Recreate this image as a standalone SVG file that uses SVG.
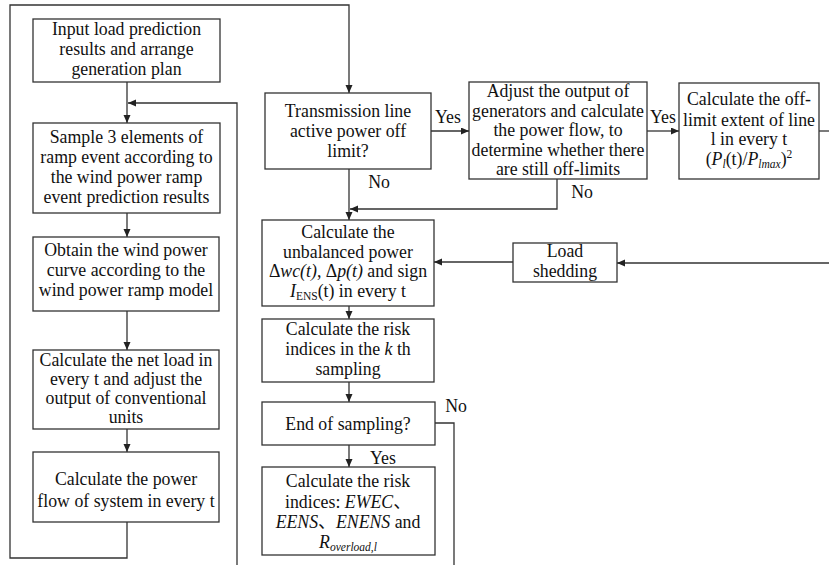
<svg xmlns="http://www.w3.org/2000/svg" width="829" height="565" viewBox="0 0 829 565">
<style>
.box{fill:#fff;stroke:#333;stroke-width:1.3}
.ln{fill:none;stroke:#333;stroke-width:1.3}
text{font-family:"Liberation Serif","Noto Sans CJK SC",serif;font-size:17.8px;fill:#111;text-anchor:middle}
.i{font-style:italic}
.s{font-size:11.5px}
</style>
<defs>
<marker id="ar" markerUnits="userSpaceOnUse" markerWidth="9" markerHeight="8" refX="8" refY="3.5" orient="auto">
<path d="M0,0 L8,3.5 L0,7 z" fill="#222"/>
</marker>
</defs>
<rect width="829" height="565" fill="#fff"/>
<g id="connectors">
<path class="ln" d="M127,82 V123" marker-end="url(#ar)"/>
<path class="ln" d="M237,565 V103 H128" marker-end="url(#ar)"/>
<path class="ln" d="M127,213 V237" marker-end="url(#ar)"/>
<path class="ln" d="M127,311 V350" marker-end="url(#ar)"/>
<path class="ln" d="M127,429 V452" marker-end="url(#ar)"/>
<path class="ln" d="M127,522 V558 H10 V5 H349 V93" marker-end="url(#ar)"/>
<path class="ln" d="M431,131 H469" marker-end="url(#ar)"/>
<path class="ln" d="M647,131 H679" marker-end="url(#ar)"/>
<path class="ln" d="M819,131 H829"/>
<path class="ln" d="M829,263 H617" marker-end="url(#ar)"/>
<path class="ln" d="M513,262 H434" marker-end="url(#ar)"/>
<path class="ln" d="M349,169 V220" marker-end="url(#ar)"/>
<path class="ln" d="M557,179 V209 H350" marker-end="url(#ar)"/>
<path class="ln" d="M349,306 V319" marker-end="url(#ar)"/>
<path class="ln" d="M349,382 V402" marker-end="url(#ar)"/>
<path class="ln" d="M349,445 V467" marker-end="url(#ar)"/>
<path class="ln" d="M435,423 H454 V565"/>
<text x="448" y="123">Yes</text>
<text x="379" y="188">No</text>
<text x="663" y="123">Yes</text>
<text x="582" y="198">No</text>
<text x="456" y="412">No</text>
<text x="383" y="464">Yes</text>
</g>
<g id="n1">
<rect class="box" x="33" y="19" width="187" height="63"/>
<text x="126.5" y="35">Input load prediction</text>
<text x="126.5" y="55">results and arrange</text>
<text x="126.5" y="75">generation plan</text>
</g>
<g id="n2">
<rect class="box" x="33" y="123" width="187" height="90"/>
<text x="126.5" y="143">Sample 3 elements of</text>
<text x="126.5" y="163">ramp event according to</text>
<text x="126.5" y="183">the wind power ramp</text>
<text x="126.5" y="203">event prediction results</text>
</g>
<g id="n3">
<rect class="box" x="33" y="237" width="186" height="74"/>
<text x="126" y="256">Obtain the wind power</text>
<text x="126" y="276">curve according to the</text>
<text x="126" y="296">wind power ramp model</text>
</g>
<g id="n4">
<rect class="box" x="33" y="350" width="186" height="79"/>
<text x="126" y="366">Calculate the net load in</text>
<text x="126" y="385">every t and adjust the</text>
<text x="126" y="404">output of conventional</text>
<text x="126" y="423">units</text>
</g>
<g id="n5">
<rect class="box" x="33" y="452" width="186" height="70"/>
<text x="126" y="485">Calculate the power</text>
<text x="126" y="507">flow of system in every t</text>
</g>
<g id="n6">
<rect class="box" x="265" y="93" width="166" height="76"/>
<text x="348" y="117">Transmission line</text>
<text x="348" y="137">active power off</text>
<text x="348" y="157">limit?</text>
</g>
<g id="n7">
<rect class="box" x="469" y="82" width="178" height="97"/>
<text x="558" y="97">Adjust the output of</text>
<text x="558" y="117">generators and calculate</text>
<text x="558" y="136">the power flow, to</text>
<text x="558" y="156">determine whether there</text>
<text x="558" y="175">are still off-limits</text>
</g>
<g id="n8">
<rect class="box" x="679" y="83" width="140" height="96"/>
<text x="749" y="105">Calculate the off-</text>
<text x="749" y="126">limit extent of line</text>
<text x="749" y="145">l in every t</text>
<text x="749" y="165">(<tspan class="i">P</tspan><tspan class="i s" dy="3">l</tspan><tspan dy="-3">(t)/</tspan><tspan class="i">P</tspan><tspan class="i s" dy="3">lmax</tspan><tspan dy="-3">)</tspan><tspan class="s" dy="-7">2</tspan></text>
</g>
<g id="n9">
<rect class="box" x="513" y="243" width="104" height="39"/>
<text x="565" y="257">Load</text>
<text x="565" y="277">shedding</text>
</g>
<g id="n10">
<rect class="box" x="262" y="220" width="172" height="86"/>
<text x="348" y="238">Calculate the</text>
<text x="348" y="258">unbalanced power</text>
<text x="348" y="277">Δ<tspan class="i">wc(t)</tspan>, Δ<tspan class="i">p(t)</tspan> and sign</text>
<text x="348" y="297"><tspan class="i">I</tspan><tspan class="s" dy="3">ENS</tspan><tspan dy="-3">(t) in every t</tspan></text>
</g>
<g id="n11">
<rect class="box" x="262" y="319" width="172" height="63"/>
<text x="348" y="335">Calculate the risk</text>
<text x="348" y="355">indices in the <tspan class="i">k</tspan> th</text>
<text x="348" y="375">sampling</text>
</g>
<g id="n12">
<rect class="box" x="262" y="402" width="173" height="43"/>
<text x="348" y="430">End of sampling?</text>
</g>
<g id="n13">
<rect class="box" x="262" y="467" width="173" height="88"/>
<text x="348" y="487">Calculate the risk</text>
<text x="348" y="508">indices: <tspan class="i">EWEC</tspan>、</text>
<text x="348" y="528"><tspan class="i">EENS</tspan>、<tspan class="i">ENENS</tspan> and</text>
<text x="348" y="548"><tspan class="i">R</tspan><tspan class="i s" dy="3">overload,l</tspan></text>
</g>
</svg>
